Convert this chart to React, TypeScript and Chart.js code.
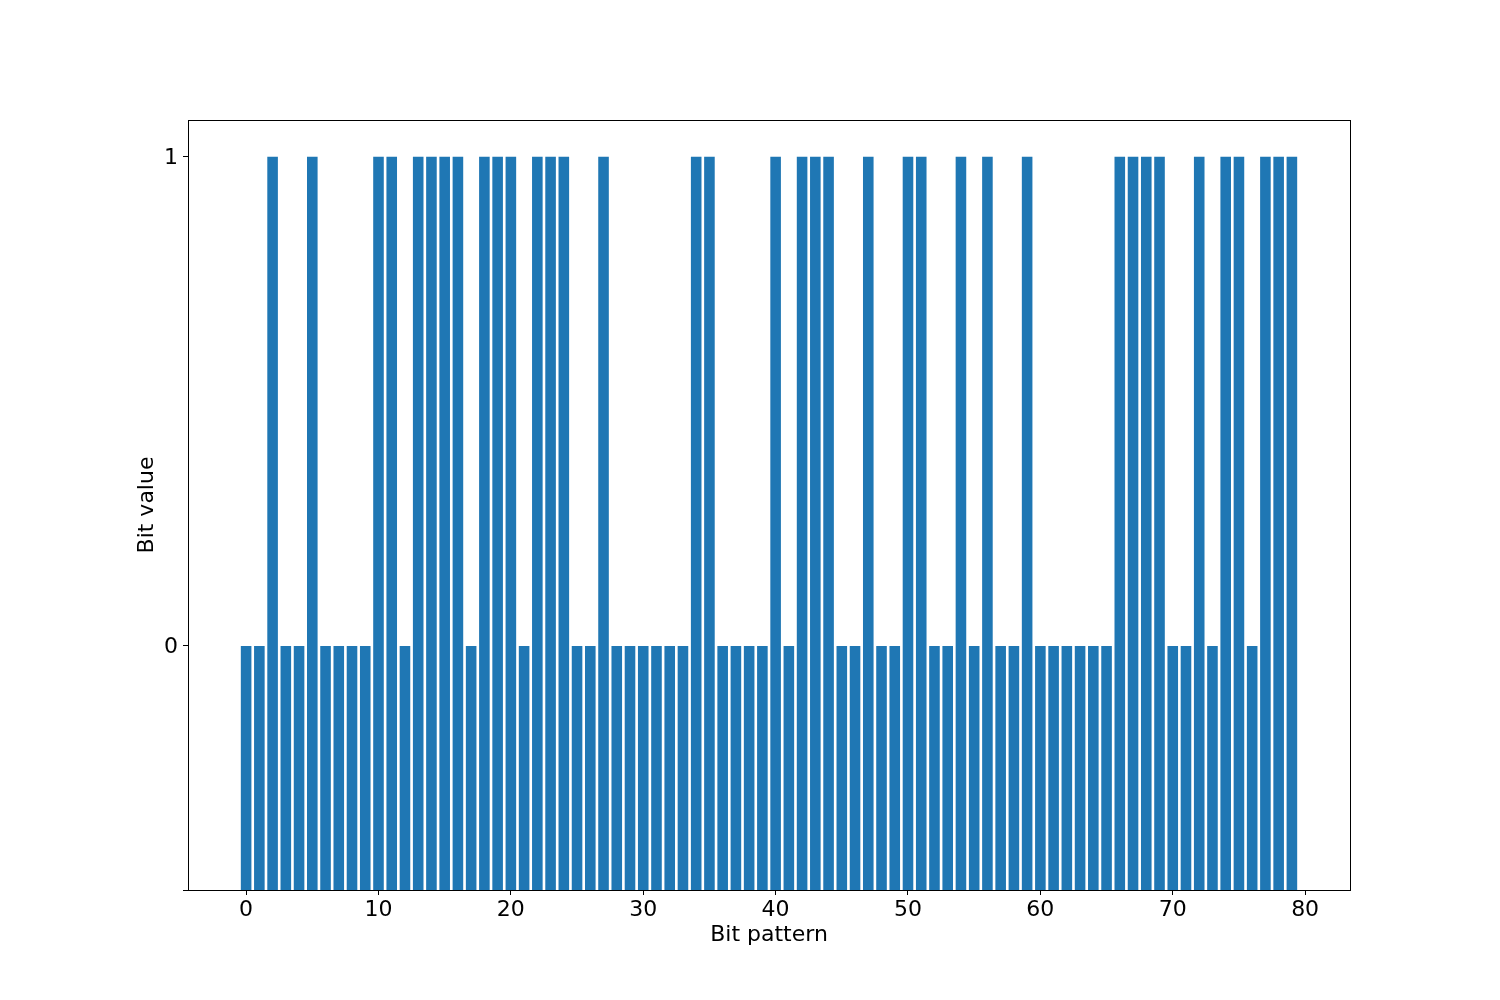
import React, { useEffect, useRef } from "react";
import { Chart, registerables } from "chart.js";

Chart.register(...registerables);

const bitValues: number[] = [
  0, 0, 1, 0, 0, 1, 0, 0, 0, 0,
  1, 1, 0, 1, 1, 1, 1, 0, 1, 1,
  1, 0, 1, 1, 1, 0, 0, 1, 0, 0,
  0, 0, 0, 0, 1, 1, 0, 0, 0, 0,
  1, 0, 1, 1, 1, 0, 0, 1, 0, 0,
  1, 1, 0, 0, 1, 0, 1, 0, 0, 1,
  0, 0, 0, 0, 0, 0, 1, 1, 1, 1,
  0, 0, 1, 0, 1, 1, 0, 1, 1, 1,
];
const barBase = -0.5;
const xTicks: number[] = [0, 10, 20, 30, 40, 50, 60, 70, 80];
const yTicks: number[] = [-0.5, 0, 1];
const yTickLabels: string[] = ["", "0", "1"];

const FONT_FAMILY = "DejaVu Sans";
const FONT_SIZE = 22;

export default function App() {
  const ref = useRef<HTMLCanvasElement | null>(null);

  useEffect(() => {
    if (!ref.current) return;
    Chart.defaults.font.family = FONT_FAMILY;
    Chart.defaults.font.size = FONT_SIZE;
    Chart.defaults.color = "#000";
    const frame = {
      id: "frame",
      afterDatasetsDraw(chart: any) {
        const { ctx, chartArea } = chart;
        ctx.save();
        ctx.strokeStyle = "#000";
        ctx.lineWidth = 1;
        ctx.strokeRect(
          Math.round(chartArea.left) + 0.5,
          Math.round(chartArea.top) + 0.5,
          Math.round(chartArea.right - chartArea.left),
          Math.round(chartArea.bottom - chartArea.top)
        );
        ctx.restore();
      },
    };
    const n = bitValues.length;
    const font = { family: FONT_FAMILY, size: FONT_SIZE };
    const chart = new Chart(ref.current, {
      type: "bar",
      data: {
        datasets: [
          {
            data: bitValues.map((v, i) => ({ x: i, y: [barBase, v] })) as any,
            backgroundColor: "#1f77b4",
            borderWidth: 0,
            barPercentage: 0.8,
            categoryPercentage: 1.0,
            borderSkipped: false,
          },
        ],
      },
      options: {
        animation: false,
        responsive: false,
        maintainAspectRatio: false,
        font,
        layout: { padding: { left: 0, top: 120, right: 150, bottom: 0 } },
        plugins: { legend: { display: false }, tooltip: { enabled: false } },
        scales: {
          x: {
            type: "linear",
            offset: false,
            min: -0.4 - 0.05 * (n - 1 + 0.8),
            max: n - 1 + 0.4 + 0.05 * (n - 1 + 0.8),
            afterBuildTicks: (s: any) => {
              s.ticks = xTicks.map((v) => ({ value: v }));
            },
            afterFit: (s: any) => {
              s.height = 110;
            },
            ticks: {
              color: "#000",
              font,
              padding: 2,
              maxRotation: 0,
              autoSkip: false,
              callback: (v: any) => String(v),
            },
            grid: {
              offset: false,
              drawOnChartArea: false,
              drawTicks: true,
              tickLength: 5,
              color: "#000",
            },
            border: { display: true, color: "#000" },
            title: {
              display: true,
              text: "Bit pattern",
              color: "#000",
              font,
              padding: { top: 0, bottom: 52 },
            },
          },
          y: {
            type: "linear",
            min: -0.5,
            max: 1.075,
            afterBuildTicks: (s: any) => {
              s.ticks = yTicks.map((v) => ({ value: v }));
            },
            afterFit: (s: any) => {
              s.width = 188;
            },
            ticks: {
              color: "#000",
              font,
              padding: 5,
              labelOffset: 2,
              autoSkip: false,
              callback: (v: any) => {
                const idx = yTicks.indexOf(Number(v));
                return idx >= 0 ? yTickLabels[idx] : "";
              },
            },
            grid: {
              offset: false,
              drawOnChartArea: false,
              drawTicks: true,
              tickLength: 5,
              color: "#000",
            },
            border: { display: true, color: "#000" },
            title: {
              display: true,
              text: "Bit value",
              color: "#000",
              font,
              padding: { top: 134, bottom: 0 },
            },
          },
        },
      },
      plugins: [frame],
    });
    return () => chart.destroy();
  }, []);

  return (
    <div style={{ position: "fixed", left: 0, top: 0, width: 1500, height: 1000, background: "#fff" }}>
      <canvas ref={ref} width={1500} height={1000} style={{ width: 1500, height: 1000 }} />
    </div>
  );
}
